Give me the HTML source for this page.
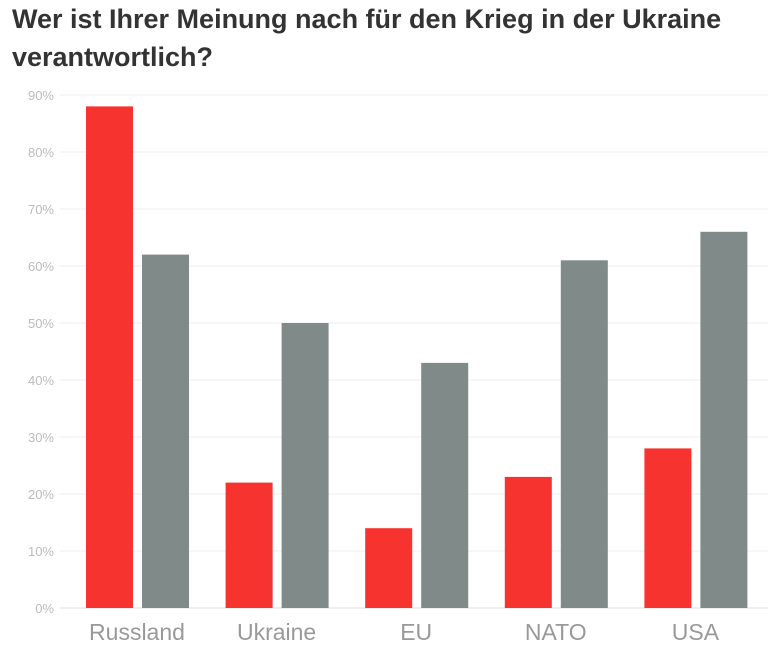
<!DOCTYPE html>
<html><head><meta charset="utf-8"><style>
body{margin:0;background:#fff;width:768px;height:651px;overflow:hidden;font-family:"Liberation Sans",sans-serif}
h1{position:absolute;left:12px;top:0;margin:0;font-size:27px;line-height:38px;font-weight:bold;color:#333;width:756px}
svg{position:absolute;left:0;top:0}
</style></head><body>
<h1>Wer ist Ihrer Meinung nach für den Krieg in der Ukraine verantwortlich?</h1>
<svg id="c" width="768" height="651"></svg>
<script>
const categories=["Russland","Ukraine","EU","NATO","USA"];
const seriesRed=[88,22,14,23,28];
const seriesGray=[62,50,43,61,66];
const ticks=[0,10,20,30,40,50,60,70,80,90];
const svg=document.getElementById('c');const NS='http://www.w3.org/2000/svg';
const y=v=>608-v*5.7;
const gx=i=>86+i*139.6;
function mk(t,a){const e=document.createElementNS(NS,t);for(const k in a)e.setAttribute(k,a[k]);svg.appendChild(e);return e;}
ticks.forEach(t=>{
const l=mk('line',{x1:60,x2:768,y1:y(t),y2:y(t),stroke:t===0?'#ddd':'#eee','stroke-width':1});


const tx=mk('text',{x:54,y:y(t)+5,'text-anchor':'end','font-size':13,fill:'#bbb','font-family':'Liberation Sans, sans-serif'});
tx.textContent=t+'%';


});
categories.forEach((c,i)=>{
const r=mk('rect',{x:gx(i),y:y(seriesRed[i]),width:47,height:y(0)-y(seriesRed[i]),fill:'#f7332f'});


const g=mk('rect',{x:gx(i)+56,y:y(seriesGray[i]),width:47,height:y(0)-y(seriesGray[i]),fill:'#7f8a89'});


const t=mk('text',{x:gx(i)+51,y:640,'text-anchor':'middle','font-size':23,fill:'#999','font-family':'Liberation Sans, sans-serif'});
t.textContent=c;


});
</script>
</body></html>
